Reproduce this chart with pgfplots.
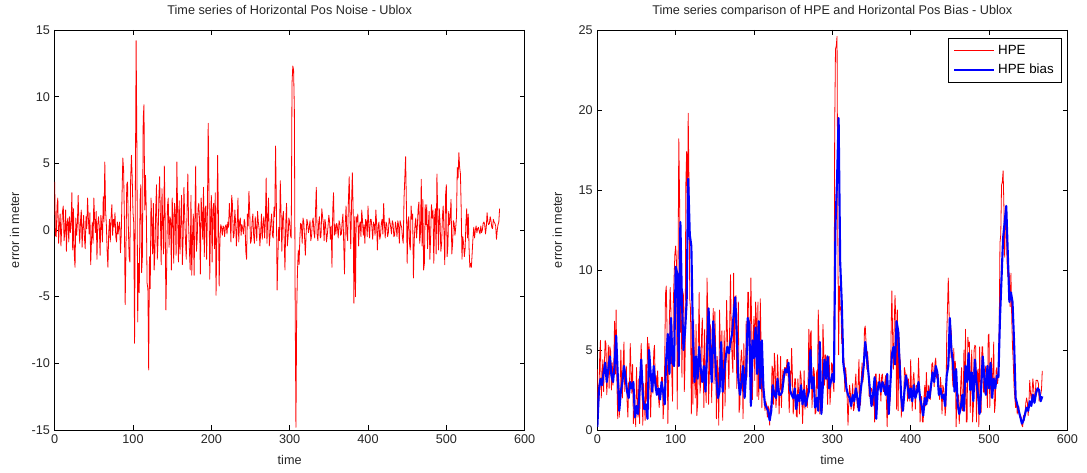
\documentclass[border=0pt]{standalone}
\usepackage{fontspec}
\setmainfont{Liberation Sans}
\usepackage{pgfplots}
\usepackage{pgfplotstable}
\pgfplotsset{compat=1.18}
\pgfplotstableread{
t n h b
0 3.6 3.8 0.2
1 -0.4 1.0 nan
2 -0.5 2.0 2.5
3 1.8 4.6 nan
4 2.4 5.6 3.2
5 -1.0 2.0 nan
6 0.3 3.1 2.8
7 1.2 4.4 nan
8 -1.2 2.4 3.6
9 0.2 4.1 nan
10 1.4 5.6 4.2
11 1.8 5.4 nan
12 -0.8 2.2 3.0
13 -0.1 3.3 nan
14 1.5 5.3 3.8
15 -1.6 2.6 nan
16 0.6 5.2 4.6
17 0.9 4.9 nan
18 -0.9 2.5 3.4
19 1.0 4.2 nan
20 -0.2 2.8 3.0
21 0.6 4.1 nan
22 2.8 6.8 4.0
23 -1.5 3.5 nan
24 1.6 7.5 5.9
25 -1.8 2.9 nan
26 -2.8 0.7 3.5
27 0.9 3.3 nan
28 -0.4 0.8 1.2
29 0.5 2.3 nan
30 2.6 5.0 2.4
31 0.3 3.0 nan
32 -1.0 2.0 3.0
33 0.7 4.2 nan
34 1.5 5.5 4.0
35 -1.3 2.4 nan
36 0.2 3.5 3.3
37 1.1 4.0 nan
38 -0.6 1.8 2.4
39 -1.4 0.8 nan
40 1.0 3.0 2.0
41 0.1 2.6 nan
42 2.4 5.4 3.0
43 0.9 3.7 nan
44 -0.3 2.3 2.6
45 1.3 4.1 nan
46 -2.6 0.4 3.0
47 -0.8 1.1 nan
48 0.6 1.4 0.8
49 -1.0 0.2 nan
50 2.4 3.9 1.5
51 0.8 2.1 nan
52 -0.2 0.8 1.0
53 1.4 3.2 nan
54 -2.2 0.4 2.6
55 0.4 3.9 nan
56 1.0 5.4 4.4
57 0.2 3.5 nan
58 -1.9 0.3 2.2
59 1.1 2.9 nan
60 0.4 1.7 1.3
61 -0.9 0.6 nan
62 2.5 4.1 1.6
63 0.6 1.8 nan
64 5.1 5.8 0.7
65 1.5 4.4 nan
66 0.4 5.4 5.0
67 -1.6 2.7 nan
68 -2.8 0.8 3.6
69 -0.2 2.8 nan
70 0.8 3.2 2.4
71 -0.9 2.3 nan
72 0.9 4.9 4.0
73 1.9 5.3 nan
74 -0.4 2.5 2.9
75 0.8 3.4 nan
76 0.2 2.4 2.2
77 1.3 3.7 nan
78 -0.5 2.1 2.6
79 -0.9 1.4 nan
80 0.6 2.5 1.9
81 -0.3 2.2 nan
82 0.3 3.3 3.0
83 0.6 3.3 nan
84 -1.7 0.7 2.4
85 -0.3 1.7 nan
86 2.6 4.2 1.6
87 5.4 8.5 nan
88 4.5 9.0 4.5
89 0.9 6.2 nan
90 -5.6 0.4 6.0
91 -1.8 3.0 nan
92 3.4 6.9 3.5
93 3.6 8.9 nan
94 0.4 7.4 7.0
95 -2.0 3.6 nan
96 -2.4 1.8 4.2
97 3.8 7.9 nan
98 5.6 9.6 4.0
99 3.9 11.0 nan
100 1.3 11.5 10.2
101 0.5 10.5 nan
102 -8.5 1.3 9.8
103 3.0 9.9 nan
104 14.2 18.2 4.0
105 6.0 14.5 nan
106 -6.9 6.1 13.0
107 -2.5 8.0 nan
108 -4.7 3.3 8.0
109 2.2 8.7 nan
110 3.4 8.4 5.0
111 -3.2 2.4 nan
112 -2.0 4.2 6.2
113 8.3 15.4 nan
114 9.4 17.4 8.0
115 1.5 13.4 nan
116 4.1 19.8 15.7
117 1.3 15.3 nan
118 -4.0 8.2 12.2
119 -4.4 7.5 nan
120 -10.5 1.0 11.5
121 -2.0 6.8 nan
122 -4.4 1.6 6.0
123 2.4 6.9 nan
124 0.6 3.6 3.0
125 -1.8 2.0 nan
126 2.0 6.6 4.6
127 -3.0 0.9 nan
128 -1.6 1.6 3.2
129 1.5 5.7 nan
130 3.4 8.6 5.2
131 -2.2 2.3 nan
132 -0.8 3.0 3.8
133 2.4 5.8 nan
134 4.0 7.0 3.0
135 1.0 4.5 nan
136 -2.6 1.4 4.0
137 3.1 6.3 nan
138 0.4 2.8 2.4
139 -1.8 1.7 nan
140 4.8 9.5 4.7
141 1.2 7.4 nan
142 -6.0 1.6 7.6
143 -2.7 3.5 nan
144 1.8 6.6 4.8
145 2.4 6.3 nan
146 -1.3 1.7 3.0
147 1.0 5.9 nan
148 0.8 7.6 6.8
149 -3.0 2.9 nan
150 2.4 7.4 5.0
151 1.0 5.1 nan
152 -2.5 0.7 3.2
153 2.0 4.6 nan
154 1.4 3.4 2.0
155 -1.9 0.3 nan
156 5.1 7.5 2.4
157 1.3 5.3 nan
158 -2.4 3.1 5.5
159 2.2 6.2 nan
160 -1.8 0.6 2.4
161 0.8 3.8 nan
162 2.6 6.2 3.6
163 -2.6 1.5 nan
164 -0.6 4.0 4.6
165 3.2 8.1 nan
166 1.0 6.2 5.2
167 -0.8 4.2 nan
168 -2.2 2.6 4.8
169 1.6 6.8 nan
170 4.2 9.7 5.5
171 0.4 6.2 nan
172 -1.5 4.5 6.0
173 -3.0 3.6 nan
174 2.6 9.8 7.2
175 -3.4 4.4 nan
176 -0.4 7.9 8.3
177 1.2 8.4 nan
178 -3.4 2.6 6.0
179 0.8 5.4 nan
180 4.8 8.0 3.2
181 -1.6 1.1 nan
182 -0.6 1.6 2.2
183 1.6 4.2 nan
184 2.0 5.0 3.0
185 0.6 4.1 nan
186 -3.3 0.7 4.0
187 2.4 5.4 nan
188 1.2 3.2 2.0
189 -0.7 2.1 nan
190 3.2 6.8 3.6
191 -2.0 3.3 nan
192 1.6 8.6 7.0
193 1.8 8.6 nan
194 -2.2 4.4 6.6
195 1.4 5.5 nan
196 8.0 9.5 1.5
197 3.0 6.6 nan
198 -3.7 1.9 5.6
199 0.8 5.9 nan
200 2.6 7.1 4.5
201 -2.4 3.1 nan
202 1.6 8.0 6.4
203 2.0 7.0 nan
204 -1.4 2.1 3.5
205 2.8 8.0 nan
206 -4.9 1.9 6.8
207 -1.2 3.5 nan
208 5.6 8.2 2.6
209 1.3 5.4 nan
210 -4.2 1.4 5.6
211 -0.8 3.3 nan
212 0.4 3.0 2.6
213 0.2 2.3 nan
214 -0.4 1.2 1.6
215 0.3 1.8 nan
216 0.2 1.6 1.4
217 -0.5 0.8 nan
218 0.3 1.5 1.2
219 0.4 1.3 nan
220 -0.3 0.3 0.6
221 0.6 1.5 nan
222 0.2 1.4 1.2
223 2.0 4.0 nan
224 1.0 3.8 2.8
225 -0.9 1.6 nan
226 2.6 4.8 2.2
227 1.9 4.0 nan
228 -0.6 1.4 2.0
229 -0.4 2.2 nan
230 1.5 4.7 3.2
231 0.6 3.3 nan
232 -1.2 1.0 2.2
233 0.3 2.5 nan
234 2.4 4.6 2.2
235 -0.9 1.4 nan
236 0.6 3.0 2.4
237 0.9 3.8 nan
238 -0.4 2.9 3.3
239 0.4 3.9 nan
240 0.1 3.9 3.8
241 -0.3 3.4 nan
242 0.8 4.4 3.6
243 0.5 4.4 nan
244 -1.6 2.6 4.2
245 -2.2 1.1 nan
246 1.2 3.7 2.5
247 0.3 2.7 nan
248 2.9 5.1 2.2
249 1.4 3.5 nan
250 -1.0 1.0 2.0
251 -0.8 1.5 nan
252 0.6 3.2 2.6
253 1.2 3.2 nan
254 -0.4 0.9 1.3
255 -1.0 0.8 nan
256 1.0 3.2 2.2
257 0.3 2.3 nan
258 -0.8 1.0 1.8
259 1.4 3.7 nan
260 0.6 3.4 2.8
261 0.1 2.3 nan
262 -1.2 0.4 1.6
263 -0.2 1.9 nan
264 1.2 3.7 2.5
265 -0.7 1.3 nan
266 0.4 1.9 1.5
267 1.0 2.8 nan
268 -0.6 1.4 2.0
269 0.7 2.9 nan
270 3.9 6.3 2.4
271 -1.0 2.7 nan
272 1.0 6.0 5.0
273 2.4 6.2 nan
274 -1.2 1.4 2.6
275 -0.4 2.6 nan
276 0.6 3.9 3.3
277 1.2 3.6 nan
278 -0.4 1.0 1.4
279 -0.6 1.1 nan
280 1.7 3.7 2.0
281 1.0 2.6 nan
282 6.3 7.5 1.2
283 2.0 5.4 nan
284 -4.5 1.0 5.5
285 -2.0 1.3 nan
286 0.2 1.2 1.0
287 -0.8 1.2 nan
288 3.7 6.6 2.9
289 1.3 5.0 nan
290 -1.6 2.8 4.4
291 0.9 4.7 nan
292 1.4 4.6 3.2
293 -0.7 3.2 nan
294 -3.0 1.6 4.6
295 0.5 4.1 nan
296 2.0 4.6 2.6
297 -1.2 1.6 nan
298 -0.5 2.5 3.0
299 0.9 4.2 nan
300 0.6 4.1 3.5
301 -0.4 2.9 nan
302 -0.6 2.4 3.0
303 11.0 18.9 nan
304 12.3 23.8 12.8
305 12.0 24.0 nan
306 9.0 24.6 15.6
307 -5.3 12.2 nan
308 -14.8 4.7 19.5
309 -6.0 9.0 nan
310 -3.0 7.5 10.5
311 -1.5 7.7 nan
312 -2.6 5.4 8.0
313 -0.6 5.5 nan
314 0.5 4.7 4.2
315 0.4 4.2 nan
316 -1.0 2.4 3.4
317 0.9 3.9 nan
318 0.6 3.2 2.6
319 -0.5 1.9 nan
320 -1.9 0.3 2.2
321 -0.3 1.8 nan
322 0.8 2.8 2.0
323 0.5 2.3 nan
324 -0.2 1.3 1.5
325 0.2 2.1 nan
326 0.7 2.9 2.2
327 -0.8 1.2 nan
328 -0.4 1.4 1.8
329 0.6 2.8 nan
330 0.9 3.5 2.6
331 -0.2 2.1 nan
332 -0.6 1.4 2.0
333 1.4 3.0 nan
334 3.2 4.4 1.2
335 -0.3 1.5 nan
336 -0.8 1.6 2.4
337 0.5 3.3 nan
338 1.0 4.2 3.2
339 -0.6 3.0 nan
340 -0.5 3.5 4.0
341 1.6 6.3 nan
342 1.0 6.5 5.5
343 0.5 5.5 nan
344 -0.8 3.8 4.6
345 0.8 4.9 nan
346 0.4 4.0 3.6
347 -0.9 2.1 nan
348 -0.4 2.1 2.5
349 0.3 2.3 nan
350 1.1 2.6 1.5
351 0.6 2.4 nan
352 -0.7 1.5 2.2
353 0.3 3.0 nan
354 -2.8 0.5 3.3
355 1.5 3.5 nan
356 2.8 3.5 0.7
357 -0.4 1.2 nan
358 0.4 3.0 2.6
359 -0.3 2.5 nan
360 0.5 3.5 3.0
361 0.2 2.9 nan
362 -0.6 1.8 2.4
363 0.7 3.4 nan
364 0.5 3.5 3.0
365 -0.4 2.4 nan
366 -0.3 2.4 2.7
367 0.6 3.0 nan
368 1.2 3.4 2.2
369 -1.0 1.8 nan
370 -3.3 0.2 3.5
371 0.5 2.7 nan
372 1.8 2.8 1.0
373 -0.3 1.6 nan
374 -0.8 2.0 2.8
375 2.2 6.0 nan
376 4.0 8.7 4.7
377 1.0 5.9 nan
378 -1.4 3.8 5.2
379 2.0 6.6 nan
380 4.3 8.4 4.1
381 1.5 7.0 nan
382 -5.5 1.3 6.8
383 1.0 7.5 nan
384 -5.0 1.2 6.2
385 1.0 6.1 nan
386 0.6 4.6 4.0
387 1.2 4.2 nan
388 -1.2 0.8 2.0
389 0.3 1.9 nan
390 0.6 1.8 1.2
391 -0.5 1.3 nan
392 1.5 3.9 2.4
393 0.7 3.6 nan
394 -0.4 3.0 3.4
395 0.4 3.5 nan
396 -1.0 1.8 2.8
397 0.8 3.2 nan
398 0.6 2.6 2.0
399 -0.5 1.8 nan
400 1.8 4.4 2.6
401 0.3 2.5 nan
402 -0.6 1.2 1.8
403 0.8 3.1 nan
404 0.8 3.6 2.8
405 0.2 2.6 nan
406 -0.7 1.3 2.0
407 0.6 2.8 nan
408 0.4 2.8 2.4
409 -0.4 2.3 nan
410 1.5 4.5 3.0
411 0.5 3.0 nan
412 -1.5 0.5 2.0
413 0.3 2.0 nan
414 0.6 2.1 1.5
415 -0.7 0.5 nan
416 -0.4 0.5 0.9
417 0.5 2.0 nan
418 0.8 2.8 2.0
419 -0.3 1.5 nan
420 2.0 3.6 1.6
421 0.4 2.4 nan
422 -0.6 1.8 2.4
423 0.6 2.8 nan
424 0.4 2.4 2.0
425 -0.5 1.9 nan
426 -0.2 2.6 2.8
427 0.9 4.1 nan
428 0.6 4.2 3.6
429 0.2 3.5 nan
430 -0.3 2.7 3.0
431 0.7 4.2 nan
432 0.5 4.5 4.0
433 -0.5 3.3 nan
434 -0.4 3.2 3.6
435 0.6 3.5 nan
436 0.2 2.4 2.2
437 -0.5 1.9 nan
438 0.7 3.3 2.6
439 0.4 2.7 nan
440 -1.0 1.0 2.0
441 0.7 2.8 nan
442 0.4 2.6 2.2
443 0.2 2.1 nan
444 -0.6 0.9 1.5
445 -1.0 1.5 nan
446 2.4 5.8 3.4
447 3.9 7.6 nan
448 5.5 9.5 4.0
449 2.0 7.5 nan
450 -2.5 4.5 7.0
451 0.5 6.5 nan
452 1.0 6.0 5.0
453 -1.0 3.6 nan
454 -1.5 2.7 4.2
455 1.8 5.1 nan
456 0.8 3.2 2.4
457 1.2 4.3 nan
458 -3.6 0.2 3.8
459 -0.8 1.9 nan
460 0.4 2.0 1.6
461 0.9 2.2 nan
462 -0.6 0.4 1.0
463 0.3 1.5 nan
464 1.6 3.0 1.4
465 2.1 3.9 nan
466 -1.0 1.2 2.2
467 -0.2 1.5 nan
468 3.8 5.0 1.2
469 -1.2 1.4 nan
470 2.3 6.3 4.0
471 -3.0 0.5 nan
472 -2.5 0.5 3.0
473 1.9 5.8 nan
474 0.4 5.2 4.8
475 1.9 5.5 nan
476 -1.4 1.1 2.5
477 0.3 3.4 nan
478 1.4 5.0 3.6
479 -2.2 0.5 nan
480 -0.4 1.4 1.8
481 1.9 5.0 nan
482 0.9 5.3 4.4
483 1.5 5.2 nan
484 -2.5 0.5 3.0
485 0.9 3.5 nan
486 1.6 3.8 2.2
487 -1.8 0.2 nan
488 4.2 5.2 1.0
489 1.2 3.0 nan
490 -1.5 1.1 2.6
491 1.6 5.2 nan
492 0.6 5.2 4.6
493 -1.6 2.4 nan
494 -1.0 2.3 3.3
495 1.0 3.8 nan
496 1.8 4.0 2.2
497 -0.2 2.9 nan
498 -2.6 1.4 4.0
499 2.6 5.9 nan
500 3.4 6.0 2.6
501 -2.0 1.4 nan
502 -1.2 3.0 4.2
503 1.4 4.5 nan
504 0.4 2.4 2.0
505 1.0 3.6 nan
506 2.3 5.5 3.2
507 -1.8 1.1 nan
508 -1.0 1.6 2.6
509 0.7 3.7 nan
510 0.5 3.9 3.4
511 -0.4 2.9 nan
512 0.2 3.5 3.3
513 1.0 6.3 nan
514 4.7 11.7 7.0
515 3.9 12.2 nan
516 5.8 15.3 9.5
517 4.7 15.5 nan
518 4.2 16.2 12.0
519 1.5 14.0 nan
520 -2.2 10.8 13.0
521 -0.5 13.0 nan
522 -1.0 13.0 14.0
523 -2.0 10.5 nan
524 -1.4 9.6 11.0
525 0.5 10.0 nan
526 1.6 9.6 8.0
527 -0.6 7.7 nan
528 1.2 9.8 8.6
529 -1.3 7.0 nan
530 -2.8 5.2 8.0
531 -2.5 4.2 nan
532 -2.8 2.7 5.5
533 -1.7 2.0 nan
534 -0.6 1.4 2.0
535 0.2 2.0 nan
536 -0.6 1.0 1.6
537 0.0 1.4 nan
538 0.3 1.5 1.2
539 -0.2 0.8 nan
540 0.1 0.9 0.8
541 0.2 0.8 nan
542 -0.1 0.3 0.4
543 -0.3 0.2 nan
544 0.3 0.9 0.6
545 -0.2 0.6 nan
546 0.0 1.0 1.0
547 0.5 1.7 nan
548 0.6 2.0 1.4
549 0.4 1.7 nan
550 -0.3 0.9 1.2
551 0.2 1.7 nan
552 1.3 3.1 1.8
553 0.6 2.3 nan
554 0.4 1.9 1.5
555 0.5 2.4 nan
556 1.0 3.2 2.2
557 0.7 2.6 nan
558 0.2 1.9 1.7
559 0.1 2.1 nan
560 0.8 3.1 2.3
561 0.6 3.1 nan
562 0.5 3.1 2.6
563 0.3 2.9 nan
564 -0.7 1.8 2.5
565 0.0 2.2 nan
566 0.4 2.2 1.8
567 0.6 2.5 nan
568 1.6 3.7 2.1
}\datatable
\pgfplotsset{
  mystyle/.style={
    scale only axis,
    width=352.5pt, height=300pt,
    xmin=0, xmax=600,
    xtick={0,100,...,600},
    tick align=inside,
    major tick length=3.5pt,
    tick style={black, line width=0.4pt},
    axis line style={black, line width=0.5pt},
    /pgf/number format/assume math mode=true,
    scaled ticks=false,
    unbounded coords=discard,
    tick label style={font=\fontsize{9.5}{11}\selectfont, text=black!85},
    label style={font=\fontsize{9.5}{11}\selectfont, text=black!85},
    title style={font=\fontsize{9.5}{11}\selectfont, text=black!85},
    title style={at={(axis description cs:0.5,1.0)}, anchor=base, yshift=5.6pt},
    xlabel style={at={(axis description cs:0.5,-0.075)}, anchor=center},
    ylabel style={at={(axis description cs:-0.085,0.5)}, anchor=center},
    xlabel={time}, ylabel={error in meter},
  }
}
\begin{document}
\begin{tikzpicture}
\useasboundingbox (0,0) rectangle (815.25pt,354.75pt);
\begin{axis}[mystyle,
  at={(41pt,32.25pt)}, anchor=south west,
  ymin=-15, ymax=15, ytick={-15,-10,...,15},
  title={Time series of Horizontal Pos Noise - Ublox}]
\addplot[red, line width=0.6pt, line join=round] table[x=t, y=n] {\datatable};
\end{axis}
\begin{axis}[mystyle,
  at={(448pt,32.25pt)}, anchor=south west,
  ymin=0, ymax=25, ytick={0,5,...,25},
  title={Time series comparison of HPE and Horizontal Pos Bias - Ublox},
  legend style={at={(0.989,0.98)}, anchor=north east, draw=black, line width=0.6pt, fill=white,
    font=\fontsize{10}{12}\selectfont, row sep=2pt, inner xsep=4pt, inner ysep=3pt},
  legend cell align=left,
  legend image code/.code={\draw[#1] (0pt,0pt) -- (30pt,0pt);}]
\addplot[red, line width=0.6pt, line join=round] table[x=t, y=h] {\datatable};
\addlegendentry{HPE}
\addplot[blue, line width=1.6pt, line join=round] table[x=t, y=b] {\datatable};
\addlegendentry{HPE bias}
\end{axis}
\end{tikzpicture}
\end{document}
